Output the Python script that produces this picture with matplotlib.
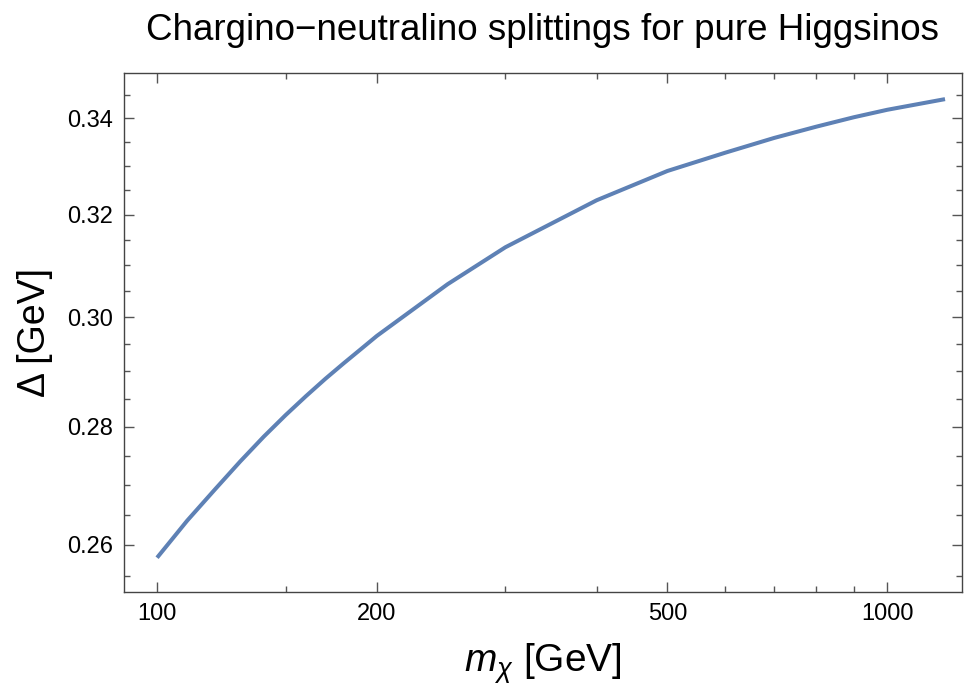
import matplotlib
matplotlib.use("Agg")
import matplotlib.pyplot as plt
from matplotlib.ticker import FixedLocator, FixedFormatter, NullFormatter

plt.rcParams['font.family'] = ['Liberation Sans', 'DejaVu Sans']
plt.rcParams['mathtext.fontset'] = 'custom'
plt.rcParams['mathtext.rm'] = 'Liberation Sans'
plt.rcParams['mathtext.it'] = 'Liberation Sans:italic'

# data
mass = [100, 110, 120, 130, 140, 150, 160, 170, 180, 190, 200, 250, 300,
        400, 500, 600, 700, 800, 900, 1000, 1100, 1200]
delta = [0.2579, 0.2640, 0.2692, 0.2740, 0.2783, 0.2821, 0.2855, 0.2886,
         0.2914, 0.2940, 0.2965, 0.3063, 0.3135, 0.3229, 0.3289, 0.3327,
         0.3358, 0.3382, 0.3402, 0.3418, 0.3430, 0.3441]

x_major = [100, 200, 500, 1000]
x_major_labels = ["100", "200", "500", "1000"]
x_minor = [150, 300, 400, 600, 700, 800, 900]
y_major = [0.26, 0.28, 0.30, 0.32, 0.34]
y_major_labels = ["0.26", "0.28", "0.30", "0.32", "0.34"]
y_minor = [0.255, 0.265, 0.27, 0.275, 0.285, 0.29, 0.295, 0.305, 0.31,
           0.315, 0.325, 0.33, 0.335, 0.345]

fig = plt.figure(figsize=(9.64, 6.89), dpi=100)
ax = fig.add_axes([124/964, 1-592/689, (962-124)/964, (592-73)/689])

ax.plot(mass, delta, color='#5E81B5', lw=2.9, solid_capstyle='butt')

ax.set_xscale('log')
ax.set_yscale('log')
ax.set_xlim(90.1, 1266)
ax.set_ylim(0.2524, 0.3498)

ax.xaxis.set_major_locator(FixedLocator(x_major))
ax.xaxis.set_major_formatter(FixedFormatter(x_major_labels))
ax.xaxis.set_minor_locator(FixedLocator(x_minor))
ax.xaxis.set_minor_formatter(NullFormatter())
ax.yaxis.set_major_locator(FixedLocator(y_major))
ax.yaxis.set_major_formatter(FixedFormatter(y_major_labels))
ax.yaxis.set_minor_locator(FixedLocator(y_minor))
ax.yaxis.set_minor_formatter(NullFormatter())

tick_col = '#555555'
ax.tick_params(which='both', direction='in', top=True, right=True,
               color=tick_col, labelsize=17, labelcolor='black', width=1.0)
ax.tick_params(which='major', length=7, pad=8)
ax.tick_params(which='minor', length=4)
for s in ax.spines.values():
    s.set_color('#444444')
    s.set_linewidth(1.0)

ax.set_title("Chargino\u2212neutralino splittings for pure Higgsinos",
             fontsize=26.5, pad=24)
ax.set_xlabel(r"$m_\chi$ [GeV]", fontsize=28, labelpad=12)
ax.set_ylabel("\u0394 [GeV]", fontsize=27, labelpad=10)

fig.savefig("out.png", dpi=100, facecolor='white')
